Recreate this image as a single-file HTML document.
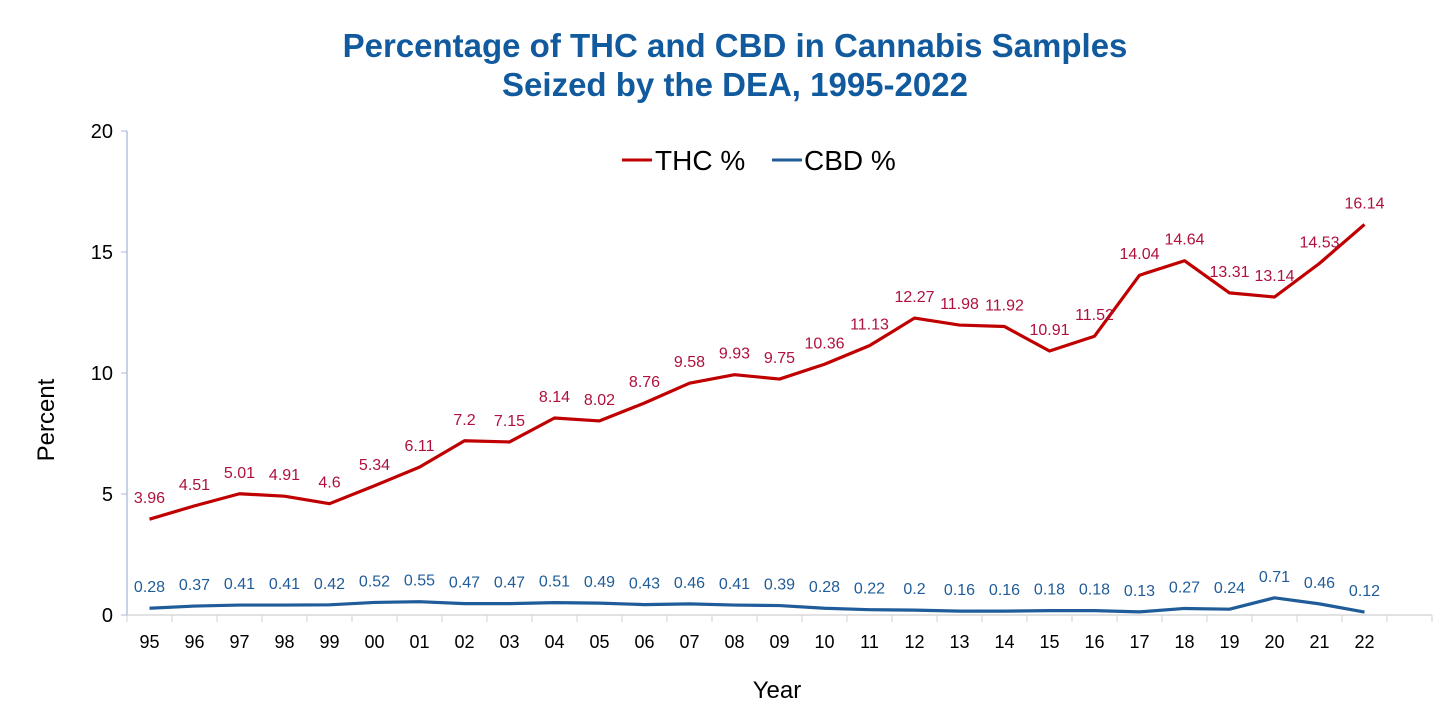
<!DOCTYPE html>
<html><head><meta charset="utf-8"><style>
body{margin:0;background:#fff;font-family:"Liberation Sans",Arial,sans-serif}
svg{display:block}
</style></head><body>
<svg id="c" width="1456" height="701">
<text x="735" y="57" text-anchor="middle" font-size="33" font-weight="bold" fill="#125a9e">Percentage of THC and CBD in Cannabis Samples</text>
<text x="735" y="96" text-anchor="middle" font-size="33" font-weight="bold" fill="#125a9e">Seized by the DEA, 1995-2022</text>
<g>
<line x1="622" y1="160" x2="652" y2="160" stroke="#c00000" stroke-width="3"/>
<text x="655" y="170" font-size="28" fill="#000">THC %</text>
<line x1="772" y1="160" x2="802" y2="160" stroke="#1f5c99" stroke-width="3"/>
<text x="804" y="170" font-size="28" fill="#000">CBD %</text>
</g>
<text transform="translate(54,420) rotate(-90)" text-anchor="middle" font-size="24">Percent</text>
<text x="777" y="698" text-anchor="middle" font-size="24">Year</text>
<g id="axes"></g><g id="marks"></g>
</svg>
<script>
const categories=["95","96","97","98","99","00","01","02","03","04","05","06","07","08","09","10","11","12","13","14","15","16","17","18","19","20","21","22"];
const thcValues=[3.96,4.51,5.01,4.91,4.6,5.34,6.11,7.2,7.15,8.14,8.02,8.76,9.58,9.93,9.75,10.36,11.13,12.27,11.98,11.92,10.91,11.52,14.04,14.64,13.31,13.14,14.53,16.14];
const cbdValues=[0.28,0.37,0.41,0.41,0.42,0.52,0.55,0.47,0.47,0.51,0.49,0.43,0.46,0.41,0.39,0.28,0.22,0.2,0.16,0.16,0.18,0.18,0.13,0.27,0.24,0.71,0.46,0.12];
const yTicks=[0,5,10,15,20];
const NS="http://www.w3.org/2000/svg";
const X0=127,BW=45,NB=29,Y0=615,Y20=131;
function xs(i){return X0+BW/2+BW*i;}
function ys(v){return Y0-(Y0-Y20)*v/20;}
const axes=document.getElementById('axes'),marks=document.getElementById('marks');
function mk(tag,attrs,parent){const e=document.createElementNS(NS,tag);for(const k in attrs)e.setAttribute(k,attrs[k]);parent.appendChild(e);return e;}
const ax="#a9bad9";
let e=mk('line',{x1:X0,y1:Y20,x2:X0,y2:Y0,stroke:ax,'stroke-width':1.3},axes);


e=mk('line',{x1:X0,y1:Y0,x2:X0+BW*NB,y2:Y0,stroke:"#d0d0d0",'stroke-width':1.3},axes);


yTicks.forEach(t=>{
  mk('line',{x1:X0-6,y1:ys(t),x2:X0,y2:ys(t),stroke:ax},axes);
  const tx=mk('text',{x:X0-14,y:ys(t)+7,'text-anchor':'end','font-size':20},axes);
  tx.textContent=t;
  
  
});
for(let i=0;i<=NB;i++)mk('line',{x1:X0+BW*i,y1:Y0,x2:X0+BW*i,y2:Y0+7,stroke:"#d0d0d0"},axes);
categories.forEach((c,i)=>{
  const tx=mk('text',{x:xs(i),y:648,'text-anchor':'middle','font-size':18},axes);
  tx.textContent=c;
  
  
});
function series(vals,color,lab,name){
  const p=mk('polyline',{points:vals.map((v,i)=>xs(i)+','+ys(v)).join(' '),fill:'none',stroke:color,'stroke-width':3.2,'stroke-linejoin':'round'},marks);
  
  
  vals.forEach((v,i)=>{
    const t=mk('text',{x:xs(i),y:ys(v)-16,'text-anchor':'middle','font-size':16,fill:lab},marks);
    t.textContent=v;
    
    
  });
}
series(thcValues,"#c00000","#b0103c","thc");
series(cbdValues,"#1f5c99","#1f5c99","cbd");
</script>
</body></html>
